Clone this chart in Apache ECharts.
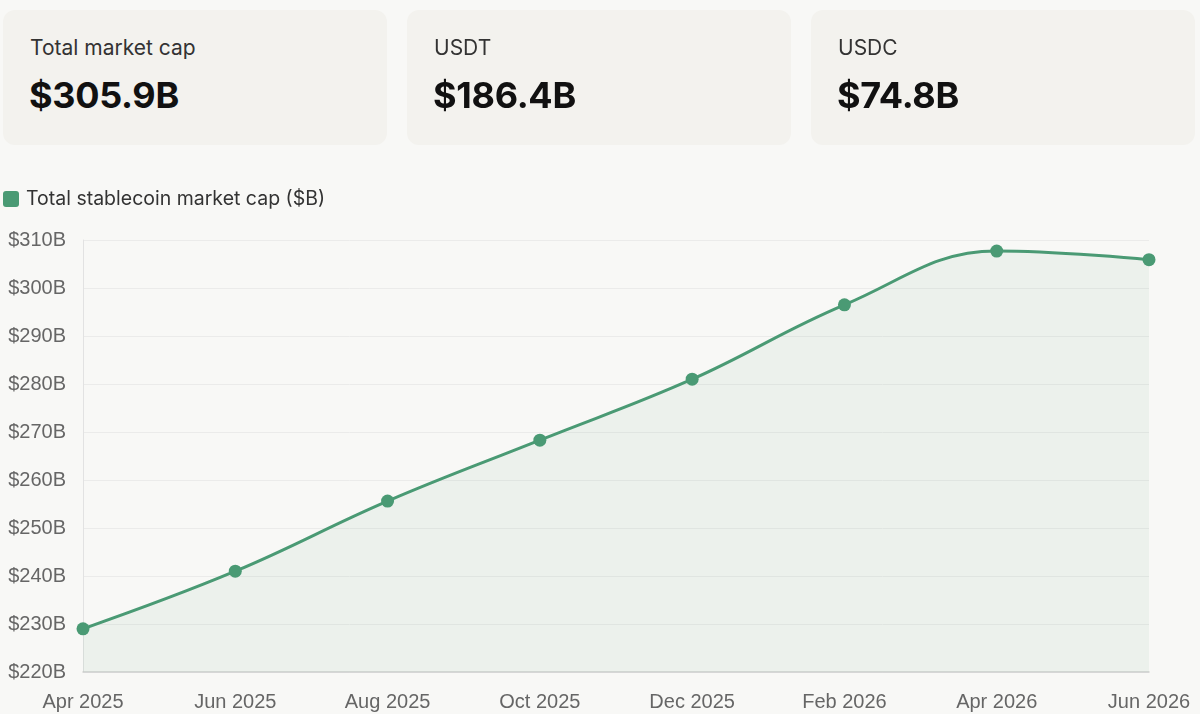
<!DOCTYPE html>
<html>
<head>
<meta charset="utf-8">
<script src="https://cdn.jsdelivr.net/npm/echarts@6/dist/echarts.min.js"></script>
<style>
  html, body { margin: 0; padding: 0; background: #f8f8f6; }
  body { width: 1200px; height: 714px; position: relative; overflow: hidden; font-family: Inter, "Noto Sans", sans-serif; }
  .card {
    position: absolute; top: 10px; width: 384px; height: 135px;
    background: #f3f2ee; border-radius: 12px;
  }
  .card .label { position: absolute; left: 27px; top: 25px; font-size: 21px; line-height: 26px; color: #333; }
  .card .value { position: absolute; left: 26px; top: 64px; font-size: 36px; line-height: 42px; font-weight: 700; color: #111; letter-spacing: -0.3px; }
  .legend { position: absolute; left: 3px; top: 186px; font-size: 19.5px; line-height: 24px; color: #333; }
  .legend i { display: inline-block; width: 16px; height: 16px; border-radius: 3px; background: #4a9a74; vertical-align: -2px; margin-right: 7px; }
  #chart { position: absolute; left: 0; top: 0; width: 1200px; height: 714px; }
</style>
</head>
<body>
<div id="chart"></div>
<div class="card" style="left:3px"><div class="label">Total market cap</div><div class="value">$305.9B</div></div>
<div class="card" style="left:407px"><div class="label">USDT</div><div class="value">$186.4B</div></div>
<div class="card" style="left:811px"><div class="label">USDC</div><div class="value">$74.8B</div></div>
<div class="legend"><i></i>Total stablecoin market cap ($B)</div>
<script>
const months = ["Apr 2025", "Jun 2025", "Aug 2025", "Oct 2025", "Dec 2025", "Feb 2026", "Apr 2026", "Jun 2026"];
const marketCap = [229.0, 241.0, 255.6, 268.3, 281.0, 296.5, 307.7, 305.9];

const myChart = echarts.init(document.getElementById("chart"));

const option = {
  animation: false,
  grid: { left: 83, right: 51, top: 240, height: 432 },
  xAxis: {
    type: "category",
    boundaryGap: false,
    data: months,
    axisLine: { lineStyle: { color: "#cfcfcf", width: 1.5 } },
    axisTick: { show: false },
    axisLabel: { color: "#666", fontSize: 20, fontFamily: "Liberation Sans", margin: 20 },
  },
  yAxis: {
    type: "value",
    min: 220,
    max: 310,
    interval: 10,
    axisLine: { show: true, lineStyle: { color: "#e2e2e2" } },
    axisTick: { show: false },
    splitLine: { lineStyle: { color: "#ebebea" } },
    axisLabel: {
      color: "#666", fontSize: 20, fontFamily: "Liberation Sans", margin: 17,
      formatter: (v) => "$" + v + "B",
    },
  },
  series: [
    {
      name: "Total stablecoin market cap ($B)",
      type: "line",
      data: marketCap,
      smooth: 0.4,
      symbol: "circle",
      symbolSize: 13,
      itemStyle: { color: "#4a9a74" },
      lineStyle: { width: 3, color: "#4a9a74" },
      areaStyle: { color: "rgba(90,150,120,0.1)" },
    },
  ],
};

myChart.setOption(option);
</script>
</body>
</html>
